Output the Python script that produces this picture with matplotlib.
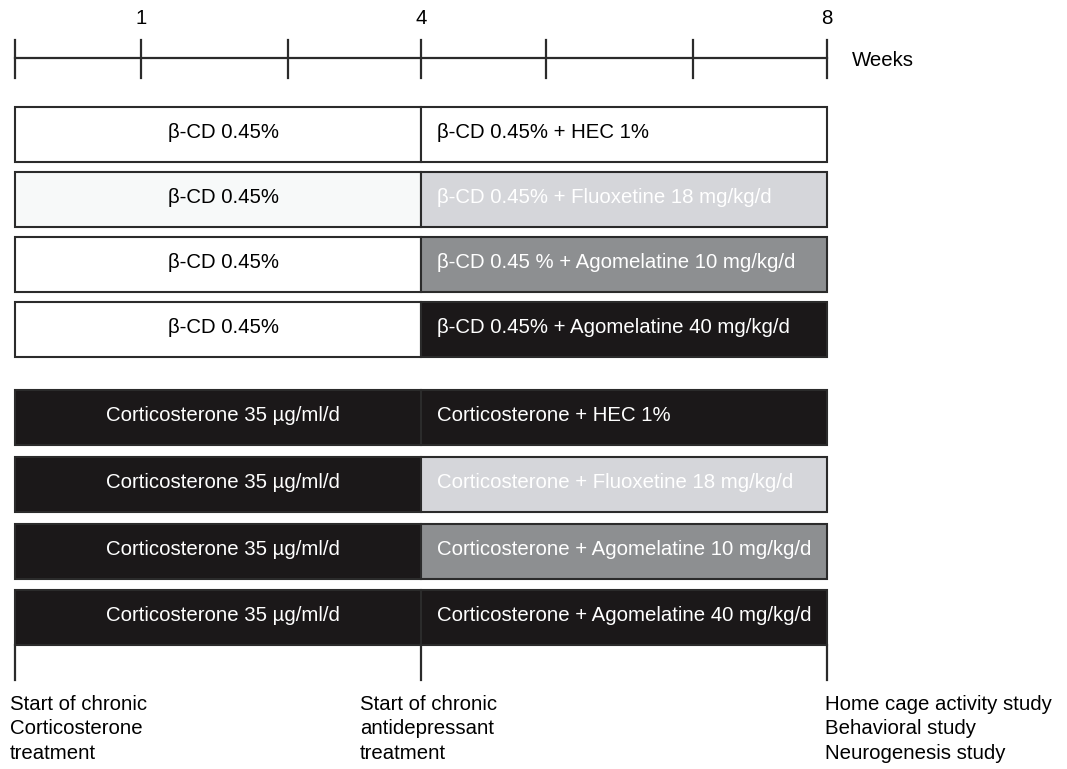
import matplotlib.pyplot as plt

plt.rcParams['font.family'] = ['Liberation Sans', 'DejaVu Sans']

# timeline (pixel positions of the week marks)
tick_pos = [15, 141, 288, 421, 546, 693, 827]
tick_labels = {141: '1', 421: '4', 827: '8'}
start, switch, end = 15, 421, 827

# rows of the treatment schedule
left_labels = ['β-CD 0.45%'] * 4 + ['Corticosterone 35 µg/ml/d'] * 4
right_labels = ['β-CD 0.45% + HEC 1%',
                'β-CD 0.45% + Fluoxetine 18 mg/kg/d',
                'β-CD 0.45 % + Agomelatine 10 mg/kg/d',
                'β-CD 0.45% + Agomelatine 40 mg/kg/d',
                'Corticosterone + HEC 1%',
                'Corticosterone + Fluoxetine 18 mg/kg/d',
                'Corticosterone + Agomelatine 10 mg/kg/d',
                'Corticosterone + Agomelatine 40 mg/kg/d']
row_top = [107, 172, 237, 302, 390, 457, 524, 590]
row_h = 55

white, pale, light, mid, dark = '#ffffff', '#f7f9f9', '#d5d6da', '#8d8f91', '#1b1819'
left_colors = [white, pale, white, white, dark, dark, dark, dark]
right_colors = [white, light, mid, dark, dark, light, mid, dark]
left_text = ['black'] * 4 + ['white'] * 4
right_text = ['black'] + ['white'] * 7

bottom_notes = ['Start of chronic\nCorticosterone\ntreatment',
                'Start of chronic\nantidepressant\ntreatment',
                'Home cage activity study\nBehavioral study\nNeurogenesis study']
note_x = [10, 360, 825]

fs = 14.7
fig = plt.figure(figsize=(10.67, 7.69), dpi=100)
ax = fig.add_axes([0, 0, 1, 1])
ax.set_xlim(0, 1067)
ax.set_ylim(769, 0)
ax.axis('off')

line_c = '#2b2b2b'
# week axis
ax.plot([start, end], [58, 58], color=line_c, lw=1.6)
for t in tick_pos:
    ax.plot([t, t], [40, 78], color=line_c, lw=1.6)
    if t in tick_labels:
        ax.text(t, 19, tick_labels[t], ha='center', va='center', fontsize=fs)
ax.text(852, 60, 'Weeks', ha='left', va='center', fontsize=fs)

# schedule bars
for i in range(len(row_top)):
    y = row_top[i] + row_h / 2
    ax.barh(y, switch - start, left=start, height=row_h, color=left_colors[i],
            edgecolor=line_c, linewidth=1.5)
    ax.barh(y, end - switch, left=switch, height=row_h, color=right_colors[i],
            edgecolor=line_c, linewidth=1.5)
    ax.text(223, y - 2, left_labels[i], ha='center', va='center',
            fontsize=fs, color=left_text[i])
    ax.text(437, y - 2, right_labels[i], ha='left', va='center',
            fontsize=fs, color=right_text[i])

# end markers
for x in [start, switch, end]:
    ax.plot([x, x], [645, 680], color=line_c, lw=1.6)
for x, s in zip(note_x, bottom_notes):
    ax.text(x, 695, s, ha='left', va='top', fontsize=fs, linespacing=1.36)

fig.savefig('out.png', dpi=100)
